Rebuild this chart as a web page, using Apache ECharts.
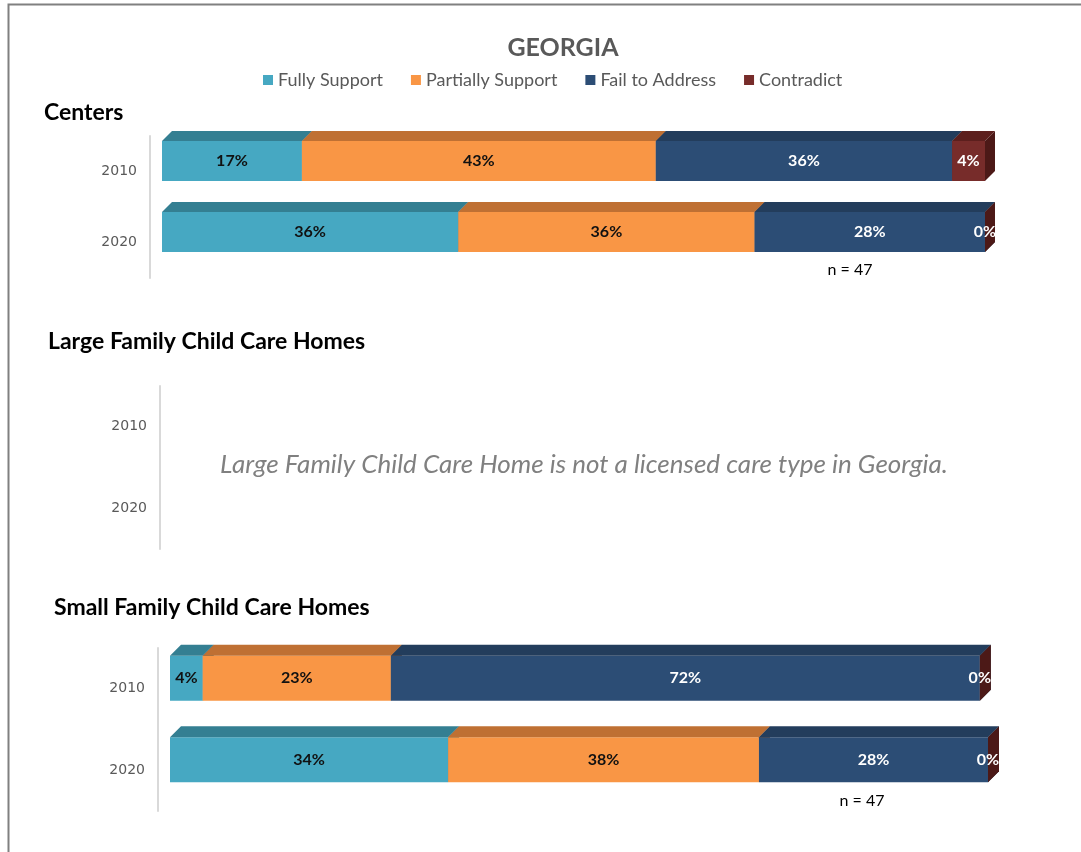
<!DOCTYPE html>
<html>
<head>
<meta charset="utf-8">
<script src="https://cdn.jsdelivr.net/npm/echarts@6/dist/echarts.min.js"></script>
<style>
  html, body { margin: 0; padding: 0; background: #ffffff; }
  #chart { width: 1081px; height: 852px; }
</style>
</head>
<body>
<div id="chart"></div>
<script>
// ---- data -------------------------------------------------------------
const years = ['2010', '2020'];
const ratingNames = ['Fully Support', 'Partially Support', 'Fail to Address', 'Contradict'];

// Centers: percent of standards per rating
const centersFully = [17, 36];
const centersPartially = [43, 36];
const centersFail = [36, 28];
const centersContradict = [4, 0];

// Small Family Child Care Homes: percent of standards per rating
const smallFully = [4, 34];
const smallPartially = [23, 38];
const smallFail = [72, 28];
const smallContradict = [0, 0];

const centersN = 47;
const smallN = 47;

const chartTitle = 'GEORGIA';
const panelTitles = ['Centers', 'Large Family Child Care Homes', 'Small Family Child Care Homes'];
const largeNote = 'Large Family Child Care Home is not a licensed care type in Georgia.';

// ---- styling ------------------------------------------------------------
const FONT = 'Lato, "Noto Sans", sans-serif';
// front / top / side shades for each rating
const shades = [
  { front: '#46A8C2', top: '#347F92', side: '#2D6F80', text: '#111111' },
  { front: '#F99645', top: '#BF7033', side: '#A85F28', text: '#111111' },
  { front: '#2C4D75', top: '#233D5C', side: '#1C324C', text: '#ffffff' },
  { front: '#772C2A', top: '#5C1F1D', side: '#4C1917', text: '#ffffff' }
];

// stacked segments [start, end, yearIndex, value]
function stackRows(cols) {
  const out = cols.map(() => []);
  years.forEach((y, i) => {
    let acc = 0;
    cols.forEach((col, k) => {
      out[k].push([acc, acc + col[i], i, col[i]]);
      acc += col[i];
    });
  });
  return out;
}

// 3D-looking bar segment: front face, top face, right side face and value text
function makeRender(geom, k) {
  const c = shades[k];
  return function (params, api) {
    const s = api.value(0), e = api.value(1), cat = api.value(2), v = api.value(3);
    const p0 = api.coord([s, cat]);
    const p1 = api.coord([e, cat]);
    const band = api.size([0, 1])[1];
    const h = band * geom.ratio;
    const cy = p0[1] + geom.shift;
    const top = cy - h / 2, bot = cy + h / 2, d = geom.depth;
    const x0 = p0[0], x1 = p1[0];
    return {
      type: 'group',
      children: [
        { type: 'rect', shape: { x: x0, y: top, width: x1 - x0, height: h }, style: { fill: c.front } },
        { type: 'polygon', shape: { points: [[x0, top], [x0 + d, top - d], [x1 + d, top - d], [x1, top]] }, style: { fill: c.top } },
        { type: 'polygon', shape: { points: [[x1, top], [x1 + d, top - d], [x1 + d, bot - d], [x1, bot]] }, style: { fill: c.side } },
        {
          type: 'text',
          style: {
            x: (x0 + x1) / 2, y: cy, text: v + '%',
            align: 'center', verticalAlign: 'middle',
            fill: c.text, font: 'bold 16px ' + FONT
          }
        }
      ]
    };
  };
}

const centersGeom = { ratio: 40 / 71, shift: -10.5, depth: 10 };
const smallGeom = { ratio: 45 / 81.5, shift: -10.5, depth: 11 };

const centersData = stackRows([centersFully, centersPartially, centersFail, centersContradict]);
const smallData = stackRows([smallFully, smallPartially, smallFail, smallContradict]);

const series = [];
ratingNames.forEach((name, k) => {
  series.push({
    type: 'custom', name: name, xAxisIndex: 0, yAxisIndex: 0,
    itemStyle: { color: shades[k].front },
    renderItem: makeRender(centersGeom, k),
    encode: { x: [0, 1], y: 2 },
    data: centersData[k]
  });
});
ratingNames.forEach((name, k) => {
  series.push({
    type: 'custom', name: name, xAxisIndex: 2, yAxisIndex: 2,
    itemStyle: { color: shades[k].front },
    renderItem: makeRender(smallGeom, k),
    encode: { x: [0, 1], y: 2 },
    data: smallData[k]
  });
});

function yAx(gridIndex) {
  return {
    type: 'category', gridIndex: gridIndex, data: years, inverse: true, offset: 12,
    axisLine: { show: true, onZero: false, lineStyle: { color: '#d9d9d9', width: 2 } },
    axisTick: { show: false },
    axisLabel: { margin: 13, color: '#595959', fontSize: 14, fontFamily: '"DejaVu Sans", sans-serif' },
    splitLine: { show: false }
  };
}
function xAx(gridIndex) {
  return { type: 'value', gridIndex: gridIndex, min: 0, max: 100, show: false };
}

const option = {
  backgroundColor: '#ffffff',
  animation: false,
  legend: {
    data: ratingNames,
    left: 258, top: 66,
    icon: 'rect', itemWidth: 10, itemHeight: 10, itemGap: 28,
    textStyle: { color: '#595959', fontSize: 18, fontFamily: FONT }
  },
  grid: [
    { left: 162, width: 823, top: 136, height: 142 },
    { left: 172, width: 818, top: 386, height: 163 },
    { left: 170, width: 818, top: 648, height: 163 }
  ],
  xAxis: [xAx(0), xAx(1), xAx(2)],
  yAxis: [yAx(0), yAx(1), yAx(2)],
  series: series,
  graphic: [
    { type: 'rect', left: 6, top: 2, shape: { width: 1200, height: 1000 }, style: { fill: 'none', stroke: '#808080', lineWidth: 2 }, silent: true },
    { type: 'text', x: 563, y: 48, style: { text: chartTitle, align: 'center', verticalAlign: 'middle', fill: '#595959', font: 'bold 25px ' + FONT } },
    { type: 'text', x: 44, y: 113, style: { text: panelTitles[0], align: 'left', verticalAlign: 'middle', fill: '#000000', font: 'bold 23px ' + FONT } },
    { type: 'text', x: 48, y: 342, style: { text: panelTitles[1], align: 'left', verticalAlign: 'middle', fill: '#000000', font: 'bold 23px ' + FONT } },
    { type: 'text', x: 54, y: 608, style: { text: panelTitles[2], align: 'left', verticalAlign: 'middle', fill: '#000000', font: 'bold 23px ' + FONT } },
    { type: 'text', x: 584, y: 465, style: { text: largeNote, align: 'center', verticalAlign: 'middle', fill: '#808080', font: 'italic 26px ' + FONT } },
    { type: 'text', x: 850, y: 270, style: { text: 'n = ' + centersN, align: 'center', verticalAlign: 'middle', fill: '#000000', font: '16px ' + FONT } },
    { type: 'text', x: 862, y: 801, style: { text: 'n = ' + smallN, align: 'center', verticalAlign: 'middle', fill: '#000000', font: '16px ' + FONT } }
  ]
};

const chart = echarts.init(document.getElementById('chart'), null, { renderer: 'canvas' });
chart.setOption(option);
</script>
</body>
</html>
